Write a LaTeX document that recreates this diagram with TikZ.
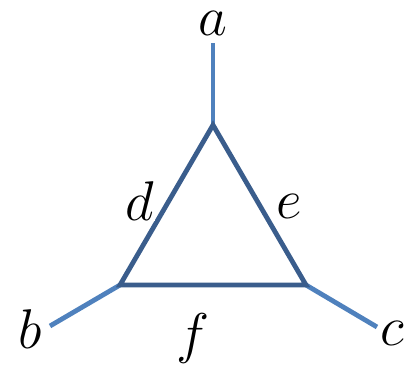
\documentclass[tikz,border=0pt]{standalone}
\definecolor{legblue}{HTML}{4F81BD}
\definecolor{tribblue}{HTML}{3A5D8C}
\begin{document}
\begin{tikzpicture}[x=1pt,y=-1pt,
  leg/.style={draw=legblue,line width=4.8pt},
  tri/.style={draw=tribblue,line width=4.8pt,line join=miter},
  lab/.style={font=\Huge,scale=2.25,inner sep=0pt,anchor=base}]
\useasboundingbox (0,0) rectangle (404,370);
\coordinate (T) at (213,125);
\coordinate (L) at (120,285);
\coordinate (R) at (306,285);
\coordinate (ea) at (213,43);
\coordinate (eb) at (50,326);
\coordinate (ec) at (377,327);
\draw[leg] (T) -- (ea);
\draw[leg] (L) -- (eb);
\draw[leg] (R) -- (ec);
\draw[tri] (T) -- (L) -- (R) -- cycle;
\node[lab] (a) at (213,35) {$a$};
\node[lab] (b) at (30,348) {$b$};
\node[lab] (c) at (392,345) {$c$};
\node[lab,fill=white,inner sep=0.5pt] (d) at (140,220) {$d$};
\node[lab] (e) at (289,218) {$e$};
\node[lab] (f) at (193,352) {$f$};
\end{tikzpicture}
\end{document}
